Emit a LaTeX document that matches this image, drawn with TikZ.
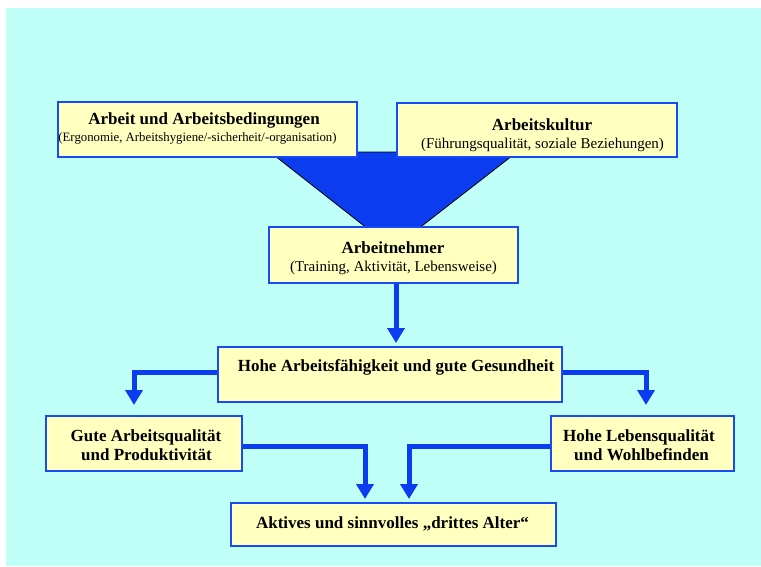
\documentclass[tikz,border=0pt]{standalone}
\usepackage{fontspec}
\setmainfont{Liberation Serif}
\usetikzlibrary{arrows.meta}
\definecolor{bgcyan}{RGB}{192,255,248}
\definecolor{boxfill}{RGB}{255,255,192}
\definecolor{myblue}{RGB}{12,60,240}
\definecolor{borderblue}{RGB}{25,75,245}
\tikzset{
  box/.style={draw=borderblue, line width=2.6pt, fill=boxfill, rectangle, inner sep=0pt},
  bt/.style={font=\fontsize{17}{19}\selectfont\bfseries, inner sep=0pt, anchor=base},
  st/.style={font=\fontsize{15}{17}\selectfont, inner sep=0pt, anchor=base},
  conn/.style={draw=myblue, line width=5pt, -{Triangle[length=15pt,width=17pt]}},
}
\begin{document}
\begin{tikzpicture}[x=1pt,y=-1pt]
\useasboundingbox (0,0) rectangle (761,566);
\fill[bgcyan] (6,8) rectangle (761,566);
% funnel
\filldraw[fill=myblue, draw=black, line width=0.8pt] (270,152) -- (517,152) -- (418,229) -- (368,229) -- cycle;
% boxes
\node[box, minimum width=299pt, minimum height=55pt] (b1) at (207.5,129.5) {};
\node[box, minimum width=280pt, minimum height=54pt] (b2) at (537,130) {};
\node[box, minimum width=249pt, minimum height=56pt] (b3) at (393.5,255) {};
\node[box, minimum width=344pt, minimum height=55pt] (b4) at (390,374.5) {};
\node[box, minimum width=196pt, minimum height=55pt] (b5) at (144,443.5) {};
\node[box, minimum width=183pt, minimum height=55pt] (b6) at (642.5,443.5) {};
\node[box, minimum width=325pt, minimum height=43pt] (b7) at (393.5,524.5) {};
% texts
\node[bt] (t1a) at (204,124) {Arbeit und Arbeitsbedingungen};
\node[st, font=\fontsize{12.8}{14}\selectfont] (t1b) at (197.5,141.5) {(Ergonomie, Arbeitshygiene/-sicherheit/-organisation)};
\node[bt] (t2a) at (542,130) {Arbeitskultur};
\node[st] (t2b) at (542.5,148) {(Führungsqualität, soziale Beziehungen)};
\node[bt] (t3a) at (393,253) {Arbeitnehmer};
\node[st] (t3b) at (393.5,271.5) {(Training, Aktivität, Lebensweise)};
\node[bt] (t4) at (396,371) {Hohe Arbeitsfähigkeit und gute Gesundheit};
\node[bt] (t5a) at (146,441) {Gute Arbeitsqualität};
\node[bt] (t5b) at (146.5,460) {und Produktivität};
\node[bt] (t6a) at (639,441) {Hohe Lebensqualität};
\node[bt] (t6b) at (641.5,460) {und Wohlbefinden};
\node[bt] (t7) at (392.5,528) {Aktives und sinnvolles „drittes Alter“};
% connector end points
\coordinate (e4) at (396,343);
\coordinate (e5) at (134,405);
\coordinate (e6) at (646,405);
\coordinate (e7a) at (365,499);
\coordinate (e7b) at (409,499);
% connectors
\draw[conn] (b3.south -| e4) -- (e4);
\draw[conn] ([yshift=2.5pt]b4.west) -| (e5);
\draw[conn] ([yshift=2.5pt]b4.east) -| (e6);
\draw[conn] ([yshift=-2.5pt]b5.east) -| (e7a);
\draw[conn] ([yshift=-2.5pt]b6.west) -| (e7b);
\end{tikzpicture}
\end{document}
